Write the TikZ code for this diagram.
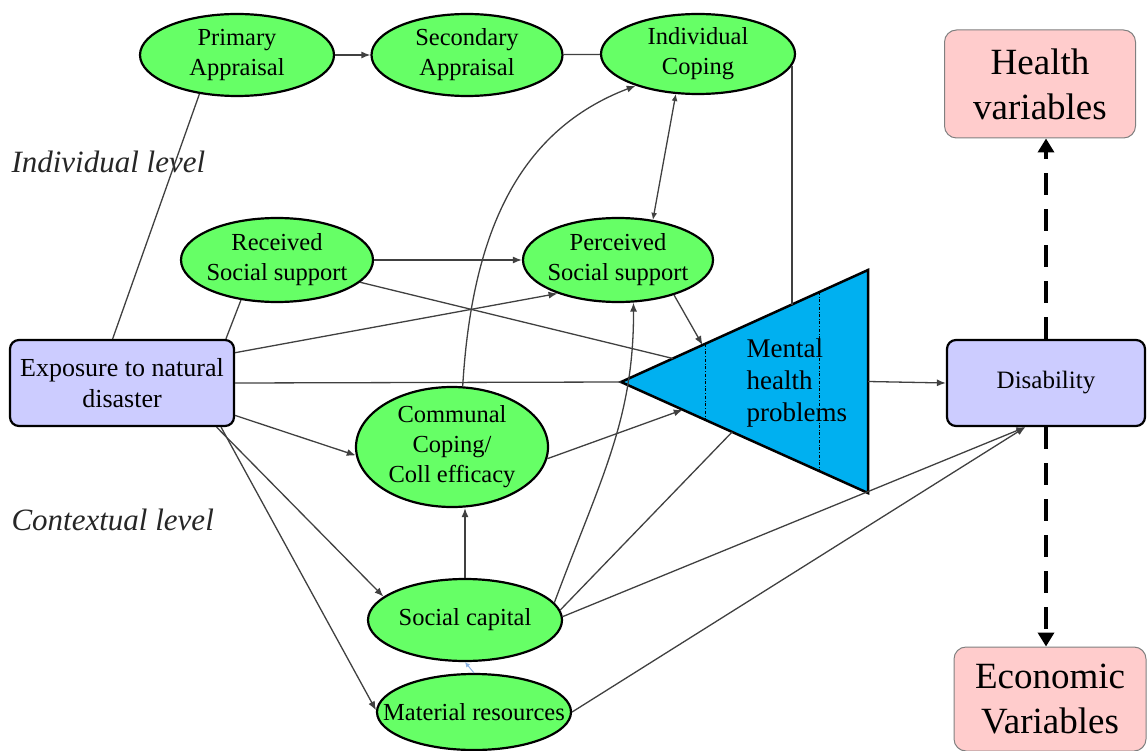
\documentclass[tikz,border=0pt]{standalone}
\usepackage{fontspec}
\setmainfont{Liberation Serif}
\usepackage{tikz}
\usetikzlibrary{arrows.meta,shapes.geometric,calc}

\definecolor{ovalgreen}{HTML}{66FF66}
\definecolor{boxblue}{HTML}{CCCCFF}
\definecolor{boxpink}{HTML}{FFCCCC}
\definecolor{triblue}{HTML}{00B0F0}
\definecolor{linkgray}{HTML}{404040}
\definecolor{tinyblue}{HTML}{8DB3E2}

\begin{document}
\begin{tikzpicture}[x=1pt, y=-1pt,
    oval/.style={ellipse, draw=black, line width=2.2pt, fill=ovalgreen, inner xsep=-8pt, inner ysep=-3pt, align=center, font=\fontsize{24.5}{30}\selectfont},
    varbox/.style={rectangle, rounded corners=9pt, draw=black, line width=2.2pt, fill=boxblue, inner sep=2pt, align=center},
    outbox/.style={rectangle, rounded corners=12pt, draw=gray, line width=1pt, fill=boxpink, align=center, font=\fontsize{37}{45}\selectfont},
    link/.style={draw=linkgray, line width=1.3pt},
    arr/.style={link, -{Latex[length=9pt,width=7pt]}},
    bigarr/.style={line width=4pt, dash pattern=on 22pt off 14pt, -{Triangle[length=14pt,width=16pt]}},
    lvl/.style={font=\fontsize{31}{35}\selectfont\itshape, text=black!85}
]
    \useasboundingbox (0,0) rectangle (1147,751);

    % 1. Level labels
    \node[lvl, anchor=west] (indlvl) at (8,162) {Individual level};
    \node[lvl, anchor=west] (ctxlvl) at (8,520) {Contextual level};

    % 2. Ovals
    \node[oval, minimum width=194pt, minimum height=82pt] (prim) at (237,55) {Primary\\Appraisal};
    \node[oval, minimum width=191pt, minimum height=82pt] (sec) at (467,55) {Secondary\\Appraisal};
    \node[oval, minimum width=194pt, minimum height=80pt] (indcop) at (698,54) {Individual\\Coping};
    \node[oval, minimum width=192pt, minimum height=84pt] (recss) at (277,260) {Received\\Social support};
    \node[oval, minimum width=190pt, minimum height=84pt] (perss) at (618,260) {Perceived\\Social support};
    \node[oval, minimum width=192pt, minimum height=120pt] (comm) at (452,447) {Communal\\Coping/\\Coll efficacy};
    \node[oval, minimum width=194pt, minimum height=82pt] (socap) at (465,620) {Social capital};
    \node[oval, minimum width=194pt, minimum height=76pt, inner xsep=-26pt] (matres) at (474,712) {Material resources};

    % 3. Boxes
    \node[varbox, minimum width=224pt, minimum height=86pt, font=\fontsize{26}{31}\selectfont] (expo) at (122,383) {Exposure to natural\\disaster};
    \node[varbox, minimum width=198pt, minimum height=86pt, font=\fontsize{25}{30}\selectfont] (disab) at (1046,383) {Disability};
    \node[outbox, minimum width=191pt, minimum height=108pt] (health) at (1040,84) {Health\\variables};
    \node[outbox, minimum width=192pt, minimum height=104pt] (econ) at (1050,699) {Economic\\Variables};

    % 4. Triangle
    \coordinate (mhl) at (621,382);
    \coordinate (mht) at (868,270);
    \coordinate (mhb) at (868,493);
    \filldraw[fill=triblue, draw=black, line width=2.5pt, line join=miter] (mhl) -- (mht) -- (mhb) -- cycle;
    \draw[dash dot, line width=0.8pt] ($(mhl)!0.34!(mht)$) -- ($(mhl)!0.34!(mhb)$);
    \draw[dash dot, line width=0.8pt] ($(mhl)!0.805!(mht)$) -- ($(mhl)!0.805!(mhb)$);
    \node[anchor=west, align=left, font=\fontsize{27}{32}\selectfont] (mhtext) at (743,383) {Mental\\health\\problems};

    % 5. Connectors
    \draw[arr] (prim) -- (sec);
    \draw[link] (sec) -- (indcop);
    \coordinate (mhjoin) at ($(mhl)!0.688!(mht)$);
    \draw[link] (indcop.-7) -- (indcop.-7 |- mhjoin);
    \draw[link, {Latex[length=7pt,width=6pt]}-{Latex[length=7pt,width=6pt]}] (indcop.241) -- (perss.49);
    \draw[arr] (comm.80) .. controls (472,230) and (520,130) .. (indcop.207);
    \draw[arr] (recss) -- (perss);
    \draw[link] (expo.102) -- (prim.226);
    \draw[link] (expo.23) -- (recss.228);
    \draw[arr] (expo.15) -- (perss.209);
    \draw[link] (recss.-15) -- ($(mhl)!0.21!(mht)$);
    \draw[arr] (perss.-32) -- ($(mhl)!0.33!(mht)$);
    \draw[link] (expo.east) -- (mhl);
    \draw[arr] ($(mht)!0.5!(mhb)$) -- (disab.west);
    \draw[arr] (expo.-16) -- (comm.185);
    \draw[arr] (expo.-25) -- (socap.164);
    \draw[arr] (expo.-24) -- (matres.179);
    \draw[arr] (socap.north) -- (socap.north |- comm.south);
    \draw[arr] (comm.-7) -- ($(mhl)!0.25!(mhb)$);
    \draw[arr] (socap.11) .. controls (600,480) and (634,420) .. (perss.-70);
    \draw[link] (socap.6) -- ($(mhl)!0.45!(mhb)$);
    \draw[arr] (socap.2) -- (disab.245);
    \draw[arr] (matres.east) -- (disab.245);
    \draw[draw=tinyblue, line width=1pt, -{Latex[length=5pt,width=5pt]}] (matres.north) -- (socap.south);

    % 6. Health and economic links
    \draw[bigarr] (disab.north) -- (disab.north |- health.south);
    \draw[bigarr] (disab.south) -- (disab.south |- econ.north);
\end{tikzpicture}
\end{document}
